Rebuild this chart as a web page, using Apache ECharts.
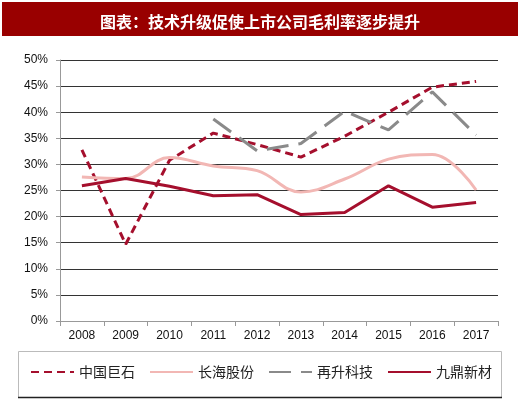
<!DOCTYPE html>
<html>
<head>
<meta charset="utf-8">
<script src="https://cdn.jsdelivr.net/npm/echarts@6/dist/echarts.min.js"></script>
<style>
  html, body { margin: 0; padding: 0; background: #fff; }
  #chart { width: 520px; height: 399px; }
</style>
</head>
<body>
<div id="chart"></div>
<script>
// data (gross margin, %)
var years = ['2008', '2009', '2010', '2011', '2012', '2013', '2014', '2015', '2016', '2017'];
var jushi = [32.8, 14.7, 30.8, 36.0, 33.8, 31.4, 35.4, 40.0, 44.8, 45.9];
var changhai = [27.6, 27.3, 31.3, 29.7, 28.8, 24.7, 27.2, 31.0, 31.9, 25.1];
var zaisheng = [null, null, null, 38.7, 32.6, 34.0, 40.2, 36.6, 43.9, 35.6];
var jiuding = [25.9, 27.3, 25.8, 24.0, 24.2, 20.4, 20.8, 25.9, 21.8, 22.7];
var names = ['中国巨石', '长海股份', '再升科技', '九鼎新材'];

var darkRed = '#A50F2D';
var pink = '#F2B7B4';
var grey = '#8A8A8A';

document.addEventListener('DOMContentLoaded', function() {
    var myChart = echarts.init(document.getElementById('chart'));

    var option = {
        animation: false,
        backgroundColor: '#fff',
        title: {
            text: '图表：技术升级促使上市公司毛利率逐步提升',
            left: 'center',
            top: 9,
            textStyle: {
                color: '#fff',
                fontSize: 16,
                fontWeight: 'bold',
                fontFamily: 'Noto Sans CJK SC'
            }
        },
        graphic: [
            {
                type: 'rect',
                z: -1,
                shape: { x: 2, y: 2, width: 516, height: 34 },
                style: { fill: '#990000' }
            },
            {
                type: 'rect',
                z: -1,
                shape: { x: 18.5, y: 351.5, width: 483, height: 46 },
                style: { fill: 'none', stroke: '#bbb', lineWidth: 1 }
            },
            {
                type: 'line',
                shape: { x1: 18, y1: 397.5, x2: 502, y2: 397.5 },
                style: { stroke: '#222', lineWidth: 1.5 }
            }
        ],
        legend: {
            data: names,
            left: 30,
            top: 365,
            padding: 0,
            itemWidth: 43,
            itemHeight: 8,
            itemGap: 14,
            itemStyle: { opacity: 0 },
            textStyle: {
                fontSize: 14,
                color: '#222',
                fontFamily: 'Noto Sans CJK SC'
            }
        },
        grid: {
            left: 60,
            right: 22,
            top: 60,
            bottom: 78
        },
        xAxis: {
            type: 'category',
            data: years,
            boundaryGap: true,
            axisLine: { lineStyle: { color: '#999' } },
            axisTick: { show: true, length: 5, lineStyle: { color: '#999' } },
            axisLabel: {
                color: '#111',
                fontSize: 12,
                fontFamily: 'Liberation Sans',
                margin: 9
            }
        },
        yAxis: {
            type: 'value',
            min: 0,
            max: 50,
            interval: 5,
            axisLine: { show: true, lineStyle: { color: '#999' } },
            axisTick: { show: true, length: 4, lineStyle: { color: '#999' } },
            axisLabel: {
                formatter: '{value}%',
                color: '#111',
                fontSize: 12,
                fontFamily: 'Liberation Sans',
                margin: 12
            },
            splitLine: { lineStyle: { color: '#333', width: 1 } }
        },
        series: [
            {
                name: names[0],
                type: 'line',
                data: jushi,
                symbol: 'none',
                lineStyle: { color: darkRed, width: 3, type: [8, 5] },
                itemStyle: { color: darkRed }
            },
            {
                name: names[1],
                type: 'line',
                data: changhai,
                symbol: 'none',
                smooth: 0.4,
                lineStyle: { color: pink, width: 3 },
                itemStyle: { color: pink }
            },
            {
                name: names[2],
                type: 'line',
                data: zaisheng,
                symbol: 'none',
                lineStyle: { color: grey, width: 3, type: [22, 10] },
                itemStyle: { color: grey }
            },
            {
                name: names[3],
                type: 'line',
                data: jiuding,
                symbol: 'none',
                lineStyle: { color: darkRed, width: 3 },
                itemStyle: { color: darkRed }
            }
        ]
    };

    myChart.setOption(option);

    window.addEventListener('resize', function() {
        myChart.resize();
    });
});
</script>
</body>
</html>
